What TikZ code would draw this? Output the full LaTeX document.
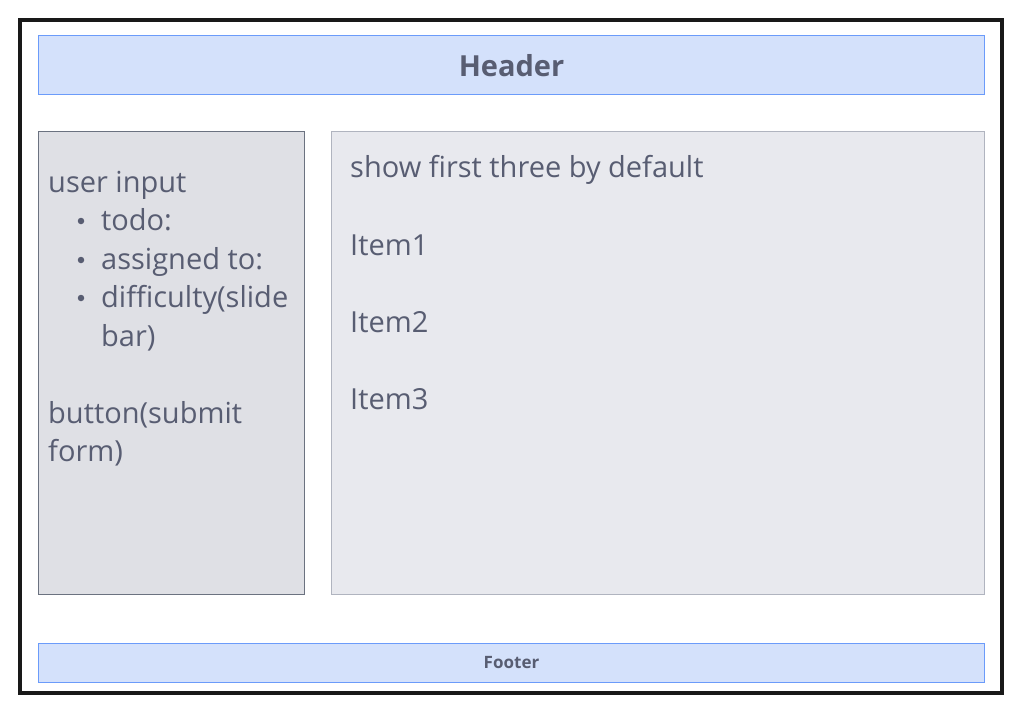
\documentclass[tikz,border=0pt]{standalone}
\usepackage{fontspec}
\setmainfont{Open Sans}
\definecolor{txt}{HTML}{585D72}
\definecolor{hdrfill}{HTML}{D4E1FB}
\definecolor{hdrline}{HTML}{6B9BFA}
\definecolor{leftfill}{HTML}{DFE0E5}
\definecolor{leftline}{HTML}{6B7280}
\definecolor{rightfill}{HTML}{E8E9EE}
\definecolor{rightline}{HTML}{B0B4BF}
\tikzset{
  bluebox/.style={draw=hdrline, fill=hdrfill, line width=1pt},
  txtline/.style={anchor=base west, inner sep=0pt, text=txt, font=\fontsize{29}{34}\selectfont},
  bul/.style={circle, fill=txt, inner sep=0pt, minimum size=6.5pt}
}
\begin{document}
\begin{tikzpicture}[x=1pt,y=-1pt]
\useasboundingbox (0,0) rectangle (1020,712);
\fill[white] (0,0) rectangle (1020,712);
% outer frame
\draw[line width=4pt, black!90] (20,20) rectangle (1002,693);
% header
\draw[bluebox] (38.5,35.5) rectangle (984.5,94.5);
\node[text=txt, font=\fontsize{29}{34}\bfseries\selectfont] (hdr) at (511.5,66) {Header};
% left panel
\draw[draw=leftline, fill=leftfill, line width=1pt] (38.5,131.5) rectangle (304.5,594.5);
% right panel
\draw[draw=rightline, fill=rightfill, line width=1pt] (331.5,131.5) rectangle (984.5,594.5);
% footer
\draw[bluebox] (38.5,643.5) rectangle (984.5,682.5);
\node[text=txt, font=\fontsize{17}{20}\bfseries\selectfont] (ftr) at (511.5,663) {Footer};
% left text
\node[txtline] (l1) at (48,192) {user input};
\node[bul] (b1) at (81,221) {};
\node[txtline] (l2) at (101,230) {todo:};
\node[bul] (b2) at (81,260) {};
\node[txtline] (l3) at (101,269) {assigned to:};
\node[bul] (b3) at (81,298) {};
\node[txtline] (l4) at (101,307) {difficulty(slide};
\node[txtline] (l5) at (101,346) {bar)};
\node[txtline] (l6) at (48,423) {button(submit};
\node[txtline] (l7) at (48,461) {form)};
% right text
\node[txtline] (r0) at (350,177) {show first three by default};
\node[txtline] (r1) at (350,255) {Item1};
\node[txtline] (r2) at (350,332) {Item2};
\node[txtline] (r3) at (350,409) {Item3};
\end{tikzpicture}
\end{document}
